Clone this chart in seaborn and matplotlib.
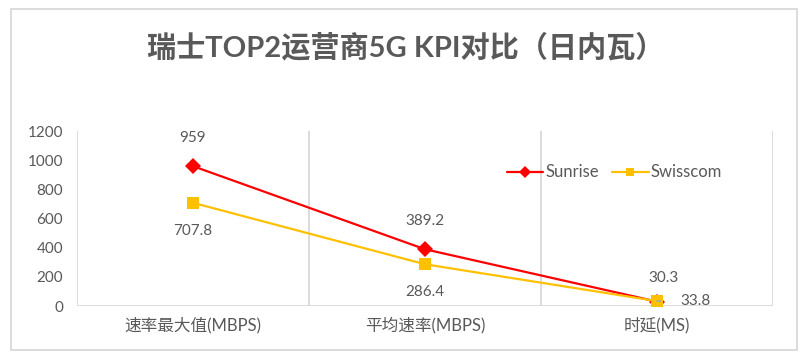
import pandas as pd
import seaborn as sns
import matplotlib.pyplot as plt
from matplotlib.patches import Rectangle

sns.set_theme(style="white")
plt.rcParams["font.family"] = ["Lato", "Noto Sans CJK SC", "DejaVu Sans"]

# dados
categorias = ["速率最大值(MBPS)", "平均速率(MBPS)", "时延(MS)"]
sunrise = [959, 389.2, 30.3]
swisscom = [707.8, 286.4, 33.8]
series = ["Sunrise", "Swisscom"]
cores = {"Sunrise": "#FF0000", "Swisscom": "#FFC000"}
cinza = "#595959"

df = pd.DataFrame({
    "categoria": categorias * 2,
    "valor": sunrise + swisscom,
    "operadora": [series[0]] * 3 + [series[1]] * 3,
})

fig = plt.figure(figsize=(8.06, 3.56), dpi=100)
ax = fig.add_axes([0.0955, 0.1404, 0.8635, 0.4916])

sns.lineplot(data=df, x="categoria", y="valor", hue="operadora", style="operadora",
             markers={"Sunrise": "D", "Swisscom": "s"}, dashes=False,
             palette=cores, linewidth=1.6, markersize=8, markeredgewidth=0, ax=ax)

ax.set_xlim(-0.5, 2.5)
ax.set_ylim(0, 1200)
ax.set_yticks(range(0, 1201, 200))
for s in ax.spines.values():
    s.set_visible(False)
ax.axhline(0, color="#D9D9D9", linewidth=1.3, zorder=0)
for xv in [-0.5, 0.5, 1.5, 2.5]:
    ax.axvline(xv, color="#D9D9D9", linewidth=1.3, zorder=0)
ax.set_xlabel("")
ax.set_ylabel("")
ax.tick_params(axis="both", length=0, colors=cinza, labelsize=11)
ax.tick_params(axis="x", pad=8, labelsize=12)
ax.tick_params(axis="y", pad=10)

# rotulos dos pontos
for i, v in enumerate(sunrise[:2]):
    ax.annotate(f"{v:g}", (i, v), xytext=(0, 20), textcoords="offset points",
                ha="center", va="center", color=cinza, fontsize=11)
for i, v in enumerate(swisscom[:2]):
    ax.annotate(f"{v:g}", (i, v), xytext=(0, -20), textcoords="offset points",
                ha="center", va="center", color=cinza, fontsize=11)
ax.annotate(f"{sunrise[2]:g}", (2, sunrise[2]), xytext=(5, 17), textcoords="offset points",
            ha="center", va="center", color=cinza, fontsize=11)
ax.annotate(f"{swisscom[2]:g}", (2, swisscom[2]), xytext=(28, 0), textcoords="offset points",
            ha="center", va="center", color=cinza, fontsize=11,
            arrowprops=dict(arrowstyle="-", color="#A6A6A6", lw=1.2, shrinkA=12, shrinkB=3))

leg = ax.legend(loc="upper right", bbox_to_anchor=(0.948, 0.895), ncol=2, frameon=False,
                fontsize=12, handlelength=2.2, handletextpad=0.1, columnspacing=0.8,
                markerscale=0.8)
for t in leg.get_texts():
    t.set_color(cinza)

fig.text(0.503, 0.868, "瑞士TOP2运营商5G KPI对比（日内瓦）", ha="center", va="center",
         fontsize=21, fontweight="bold", color=cinza)

fig.patches.append(Rectangle((11 / 806, 6 / 356), 786 / 806, 341 / 356, transform=fig.transFigure,
                             fill=False, edgecolor="#D9D9D9", linewidth=1.3))

plt.savefig("out.png", dpi=100)
